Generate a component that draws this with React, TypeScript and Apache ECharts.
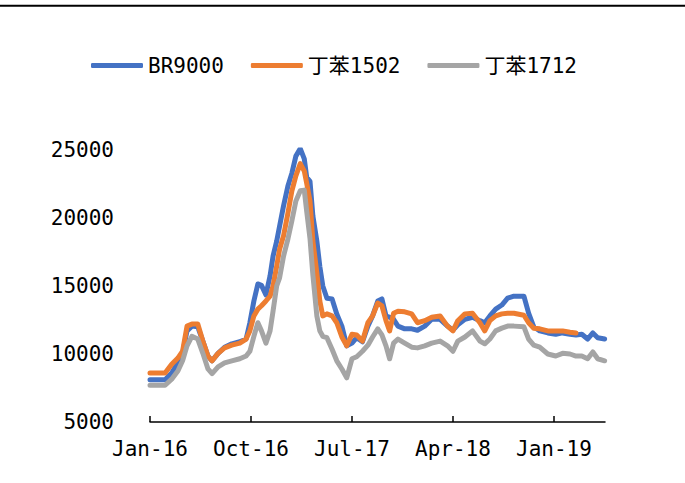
import React, { useEffect, useRef } from "react";
import * as echarts from "echarts";

// Sample dates (observations)
const dates = [
  "2016-01-01", "2016-02-11", "2016-02-28", "2016-03-16", "2016-03-29", "2016-04-10", "2016-04-23", "2016-05-09",
  "2016-05-23", "2016-06-06", "2016-06-17", "2016-07-03", "2016-07-21", "2016-08-10", "2016-09-01", "2016-09-18",
  "2016-09-28", "2016-10-09", "2016-10-20", "2016-10-30", "2016-11-11", "2016-11-22", "2016-11-30", "2016-12-10",
  "2016-12-18", "2016-12-29", "2017-01-10", "2017-01-21", "2017-02-01", "2017-02-12", "2017-02-22", "2017-02-28",
  "2017-03-09", "2017-03-17", "2017-03-28", "2017-04-05", "2017-04-13", "2017-04-24", "2017-05-08", "2017-05-21",
  "2017-06-04", "2017-06-17", "2017-07-01", "2017-07-14", "2017-07-30", "2017-08-14", "2017-08-27", "2017-09-10",
  "2017-09-21", "2017-10-02", "2017-10-12", "2017-10-23", "2017-11-04", "2017-11-22", "2017-12-11", "2017-12-27",
  "2018-01-16", "2018-02-04", "2018-02-25", "2018-03-17", "2018-04-01", "2018-04-14", "2018-05-03", "2018-05-24",
  "2018-06-13", "2018-06-26", "2018-07-10", "2018-07-26", "2018-08-12", "2018-08-28", "2018-09-14", "2018-10-11",
  "2018-10-24", "2018-11-07", "2018-11-23", "2018-12-15", "2019-01-06", "2019-01-25", "2019-02-13", "2019-02-28",
  "2019-03-16", "2019-04-01", "2019-04-15", "2019-04-28", "2019-05-17",
];

const br9000 = [
  8100, 8100, 8600, 9350, 10050, 11700, 12050, 12000,
  10950, 9850, 9500, 10050, 10500, 10750, 10900, 11100,
  12300, 13900, 15150, 15050, 14350, 15750, 17200, 18300,
  19400, 20900, 22350, 23300, 24550, 25100, 24350, 23000,
  22700, 20150, 18300, 16450, 15000, 14100, 14050, 12950,
  12050, 10600, 10800, 11200, 10900, 12050, 12800, 13900,
  14050, 12800, 12700, 12550, 12050, 11850, 11850, 11750,
  12050, 12550, 12550, 12050, 11750, 12150, 12550, 12700,
  12450, 12300, 12800, 13300, 13600, 14100, 14250, 14250,
  13000, 12000, 11700, 11550, 11450, 11550, 11450, 11400,
  11450, 11100, 11550, 11200, 11100,
];

const sbr1502 = [
  8600, 8600, 9250, 9700, 10200, 12050, 12200, 12200,
  10950, 9850, 9500, 10050, 10450, 10650, 10800, 11100,
  11700, 12800, 13300, 13550, 13900, 14250, 15000, 16450,
  17700, 18700, 20350, 22000, 23100, 24000, 23450, 22550,
  21250, 18300, 15950, 13900, 12800, 12950, 12800, 12300,
  11250, 10600, 11450, 11400, 10950, 12300, 12800, 13750,
  13550, 12450, 11700, 13000, 13150, 13100, 12950, 12300,
  12450, 12700, 12800, 12050, 11700, 12450, 12950, 13000,
  12300, 11700, 12450, 12800, 12950, 13000, 13000, 12850,
  12300, 11900, 11850, 11700, 11700, 11700, 11600, 11550,
  null, null, null, null, null,
];

const sbr1712 = [
  7700, 7700, 8150, 8750, 9500, 10600, 11300, 11100,
  10050, 8900, 8550, 9050, 9350, 9500, 9650, 9850,
  10200, 11300, 12300, 11700, 10800, 11700, 13150, 15000,
  15600, 17200, 18450, 19800, 21250, 22000, 22050, 20500,
  18500, 15800, 12800, 11700, 11300, 11200, 10350, 9500,
  8900, 8250, 9650, 9800, 10200, 10650, 11250, 11850,
  11400, 10600, 9650, 10800, 11100, 10800, 10500, 10450,
  10600, 10800, 10950, 10600, 10200, 10950, 11250, 11700,
  10950, 10750, 11100, 11700, 11900, 12050, 12050, 12000,
  11100, 10650, 10500, 10000, 9850, 10050, 10000, 9850,
  9850, 9650, 10150, 9650, 9500,
];

const seriesNames = ["BR9000", "丁苯1502", "丁苯1712"];
const seriesColors = ["#4472C4", "#ED7D31", "#A5A5A5"];

// x tick positions in months since Jan 2016, and their labels
const xTickMonths = [0, 9, 18, 27, 36];
const xTickLabels = ["Jan-16", "Oct-16", "Jul-17", "Apr-18", "Jan-19"];

const yTicks = [5000, 10000, 15000, 20000, 25000];

function toMonthIndex(d: string): number {
  const [y, m, day] = d.split("-").map(Number);
  const dim = new Date(y, m, 0).getDate();
  return (y - 2016) * 12 + (m - 1) + (day - 1) / dim;
}

const FONT = "'DejaVu Sans Mono', 'Noto Sans CJK SC', sans-serif";

export default function App() {
  const ref = useRef<HTMLDivElement>(null);
  useEffect(() => {
    if (!ref.current) return;
    const chart = echarts.init(ref.current, null, { renderer: "svg" });
    const valueSets = [br9000, sbr1502, sbr1712];
    chart.setOption({
      animation: false,
      backgroundColor: "#fff",
      graphic: [
        {
          type: "rect",
          shape: { x: 0, y: 4.7, width: 685, height: 2 },
          style: { fill: "#000" },
        },
      ],
      legend: {
        left: 86,
        top: 50,
        itemWidth: 52,
        itemHeight: 5,
        itemGap: 27,
        icon: "roundRect",
        textStyle: { fontSize: 21, color: "#000", fontFamily: FONT },
        data: seriesNames,
      },
      grid: { left: 150, right: 80, top: 150, bottom: 61 },
      xAxis: {
        type: "value",
        min: 0,
        max: 40.55,
        splitLine: { show: false },
        axisLine: { show: true, lineStyle: { color: "#000", width: 1.5 } },
        axisTick: {
          show: true,
          inside: true,
          length: 6,
          customValues: xTickMonths,
          lineStyle: { color: "#000", width: 1.5 },
        },
        axisLabel: {
          customValues: xTickMonths,
          margin: 16,
          fontSize: 21,
          color: "#000",
          fontFamily: FONT,
          formatter: (v: number) => {
            const i = xTickMonths.indexOf(Math.round(v));
            return i >= 0 ? xTickLabels[i] : "";
          },
        },
      },
      yAxis: {
        type: "value",
        min: yTicks[0],
        max: yTicks[yTicks.length - 1],
        interval: 5000,
        splitLine: { show: false },
        axisLine: { show: false },
        axisTick: { show: false },
        axisLabel: {
          margin: 36,
          fontSize: 21,
          color: "#000",
          fontFamily: FONT,
          formatter: (v: number) => String(v),
        },
      },
      series: seriesNames.map((name, k) => ({
        name,
        type: "line",
        symbol: "none",
        showSymbol: false,
        connectNulls: false,
        color: seriesColors[k],
        itemStyle: { color: seriesColors[k] },
        lineStyle: { width: 5, color: seriesColors[k], cap: "round", join: "round" },
        data: dates.map((d, i) => [toMonthIndex(d), valueSets[k][i]]),
      })),
    });
    return () => chart.dispose();
  }, []);
  return (
    <div
      ref={ref}
      style={{ position: "absolute", left: 0, top: 0, width: 685, height: 483 }}
    />
  );
}
